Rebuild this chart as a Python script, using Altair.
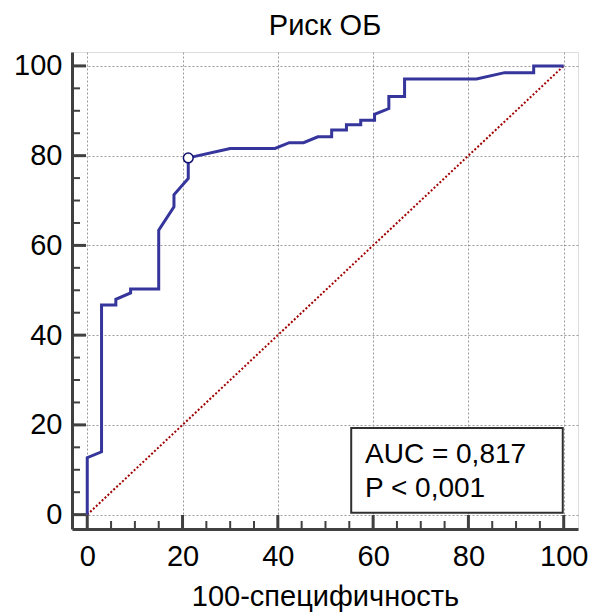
import altair as alt
import pandas as pd

# ROC curve points (100-specificity, sensitivity)
roc_x = [0, 0, 3, 3, 6, 6, 9.1, 9.1, 15, 15, 18.2, 18.2, 21.2, 21.2, 30, 39.4, 42.4, 45.4,
         48.4, 51.3, 51.3, 54.4, 54.4, 57.4, 57.4, 60.3, 60.3, 63.3, 63.3, 66.6, 66.6,
         81.7, 87.6, 93.7, 93.7, 100]
roc_y = [0, 12.7, 14, 46.7, 46.7, 48, 49.4, 50.3, 50.3, 63.4, 68.6, 71.3, 74.9, 79.5, 81.6,
         81.6, 82.9, 82.9, 84.2, 84.2, 85.7, 85.7, 86.9, 86.9, 87.9, 87.9, 89.2, 90.5, 93.2,
         93.2, 97.1, 97.1, 98.5, 98.5, 100, 100]

# Optimal cut-off point
cut_x = [21.2]
cut_y = [79.5]

# Reference diagonal
diag_x = [0, 100]
diag_y = [0, 100]

major_ticks = [0, 20, 40, 60, 80, 100]
minor_ticks = [v for v in range(0, 101, 5) if v % 20 != 0]

auc_lines = ["AUC = 0,817", "P < 0,001"]

FONT = "Liberation Sans"
FS = 29
W, H = 506, 477
XDOM = [-3.2, 103.0]
YDOM = [-3.2, 103.1]
AXC = "#404040"

xs = alt.Scale(domain=XDOM, nice=False, zero=False)
ys = alt.Scale(domain=YDOM, nice=False, zero=False)

roc_df = pd.DataFrame({"x": roc_x, "y": roc_y, "o": list(range(len(roc_x)))})
cut_df = pd.DataFrame({"x": cut_x, "y": cut_y})
diag_df = pd.DataFrame({"x": diag_x, "y": diag_y})
maj_df = pd.DataFrame({"v": major_ticks})
min_df = pd.DataFrame({"v": minor_ticks})

grid_axis_x = alt.Axis(values=major_ticks, grid=True, gridColor="#9a9a9a", gridDash=[2, 2],
                       gridWidth=1, ticks=False, domain=True, domainColor=AXC, domainWidth=3,
                       labelFont=FONT, labelFontSize=FS, labelColor="#000", labelPadding=13,
                       title="100-специфичность", titleFont=FONT, titleFontSize=FS,
                       titleFontWeight="normal", titleColor="#000", titlePadding=11)
grid_axis_y = alt.Axis(values=major_ticks, grid=True, gridColor="#9a9a9a", gridDash=[2, 2],
                       gridWidth=1, ticks=False, domain=True, domainColor=AXC, domainWidth=3,
                       labelFont=FONT, labelFontSize=FS, labelColor="#000", labelPadding=10,
                       title=None)

diag = alt.Chart(diag_df).mark_line(color="#a00000", strokeWidth=2, strokeDash=[2, 2]).encode(
    x=alt.X("x:Q", scale=xs, axis=grid_axis_x),
    y=alt.Y("y:Q", scale=ys, axis=grid_axis_y),
)

curve = alt.Chart(roc_df).mark_line(color="#35359c", strokeWidth=3, strokeJoin="miter").encode(
    x=alt.X("x:Q", scale=xs), y=alt.Y("y:Q", scale=ys), order="o:Q"
)

point = alt.Chart(cut_df).mark_point(shape="circle", size=95, filled=True, fill="white",
                                     stroke="#101070", strokeWidth=1.5, opacity=1).encode(
    x=alt.X("x:Q", scale=xs), y=alt.Y("y:Q", scale=ys)
)

# inward axis ticks
xmaj = alt.Chart(maj_df).mark_rule(color=AXC, strokeWidth=3).encode(
    x=alt.X("v:Q", scale=xs), y=alt.value(H), y2=alt.value(H - 14))
xmin = alt.Chart(min_df).mark_rule(color=AXC, strokeWidth=2).encode(
    x=alt.X("v:Q", scale=xs), y=alt.value(H), y2=alt.value(H - 8))
ymaj = alt.Chart(maj_df).mark_rule(color=AXC, strokeWidth=3).encode(
    y=alt.Y("v:Q", scale=ys), x=alt.value(0), x2=alt.value(14))
ymin = alt.Chart(min_df).mark_rule(color=AXC, strokeWidth=2).encode(
    y=alt.Y("v:Q", scale=ys), x=alt.value(0), x2=alt.value(8))

box = alt.Chart(pd.DataFrame({"a": [0]})).mark_rect(fill="white", stroke="#303030",
                                                     strokeWidth=2).encode(
    x=alt.datum(55.4, scale=xs), x2=alt.datum(99.8),
    y=alt.datum(19.3, scale=ys), y2=alt.datum(0.4),
)

txt1 = alt.Chart(pd.DataFrame({"t": [auc_lines[0]]})).mark_text(
    align="left", baseline="alphabetic", font=FONT, fontSize=28, color="#000").encode(
    x=alt.datum(58.3, scale=xs), y=alt.datum(11.6, scale=ys), text="t:N")
txt2 = alt.Chart(pd.DataFrame({"t": [auc_lines[1]]})).mark_text(
    align="left", baseline="alphabetic", font=FONT, fontSize=28, color="#000").encode(
    x=alt.datum(58.3, scale=xs), y=alt.datum(4.0, scale=ys), text="t:N")

chart = alt.layer(diag, curve, point, box, txt1, txt2, xmaj, xmin, ymaj, ymin).properties(
    width=W, height=H,
    title=alt.TitleParams("Риск ОБ", font=FONT, fontSize=FS, fontWeight="normal",
                          color="#000", offset=11, anchor="middle"),
    autosize=alt.AutoSizeParams(type="none"),
    padding={"left": 72, "top": 52, "right": 14, "bottom": 83},
).configure_view(stroke=None).configure(background="white")

chart.save("out.html", embed_options={"renderer": "svg", "actions": False})
